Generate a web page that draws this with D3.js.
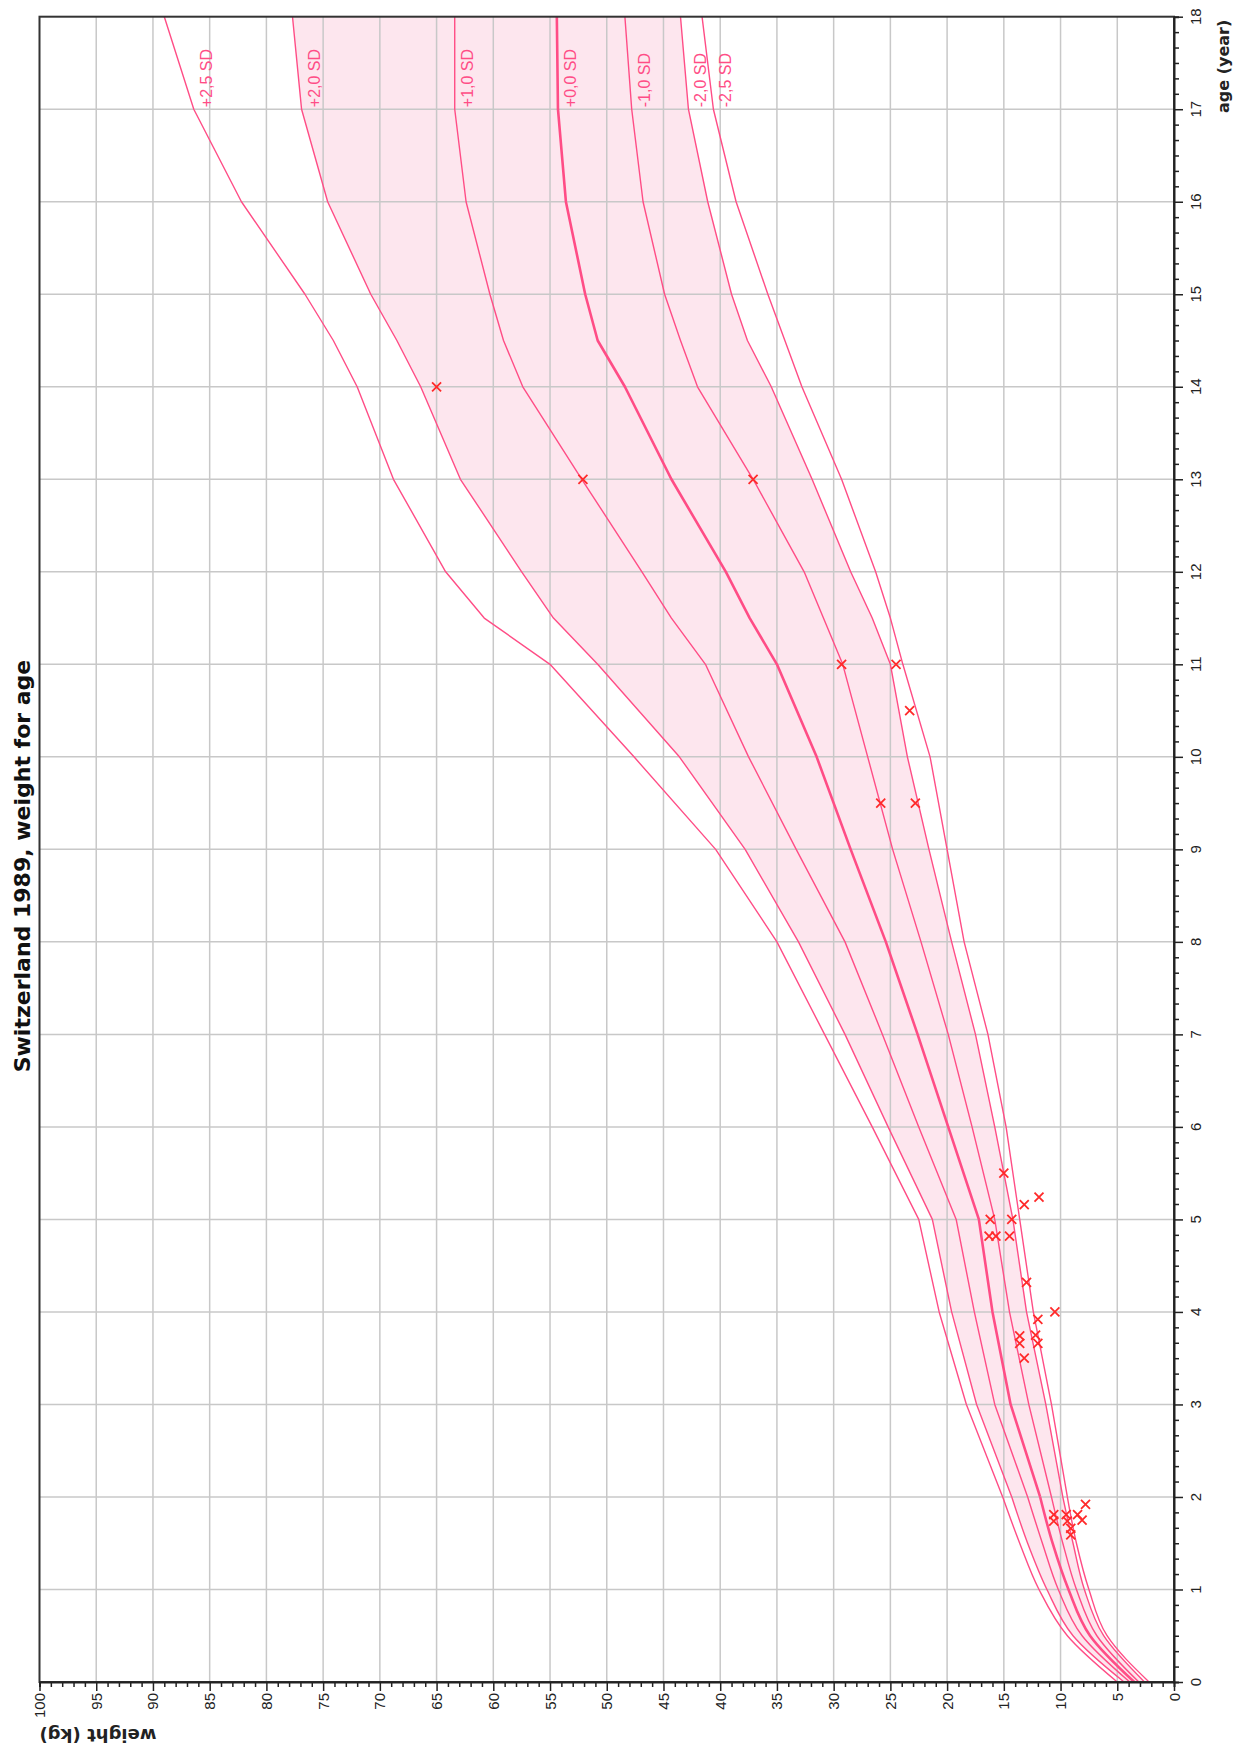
<!DOCTYPE html>
<html>
<head>
<meta charset="utf-8">
<script src="https://cdn.jsdelivr.net/npm/d3@7/dist/d3.min.js"></script>
<style>
  html, body { margin: 0; padding: 0; background: #fff; }
  svg { display: block; }
  text { font-family: "Liberation Sans", Arial, sans-serif; }
  .bold { font-family: "DejaVu Sans", sans-serif; font-weight: bold; }
</style>
</head>
<body>
<svg id="chart" width="1234" height="1749"></svg>
<script>
// Reference ages (years) at which the SD curves are tabulated
const ages = [0, 0.5, 1, 1.5, 2, 3, 4, 5, 6, 7, 8, 9, 10, 11, 11.5, 12, 13, 14, 14.5, 15, 16, 17, 18];

// Weight (kg) for each SD curve
const sdPlus25  = [5.0, 9.4, 11.9, 13.6, 15.1, 18.3, 20.7, 22.5, 26.6, 30.8, 35.0, 40.4, 47.6, 55.0, 60.8, 64.2, 68.8, 72.0, 74.1, 76.6, 82.2, 86.4, 89.0];
const sdPlus20  = [4.4, 8.9, 11.2, 12.9, 14.3, 17.4, 19.6, 21.3, 25.2, 29.0, 33.1, 37.8, 43.6, 50.8, 54.7, 57.5, 62.9, 66.4, 68.5, 70.8, 74.6, 76.9, 77.7];
const sdPlus10  = [3.9, 8.1, 10.2, 11.6, 12.9, 15.8, 17.6, 19.2, 22.5, 25.7, 29.0, 33.3, 37.5, 41.3, 44.3, 46.9, 52.2, 57.4, 59.1, 60.3, 62.4, 63.4, 63.4];
const sdZero    = [3.5, 7.4, 9.3, 10.7, 11.8, 14.4, 16.0, 17.2, 19.9, 22.6, 25.4, 28.5, 31.5, 35.0, 37.4, 39.5, 44.3, 48.4, 50.8, 51.9, 53.6, 54.3, 54.4];
const sdMinus10 = [3.1, 6.8, 8.6, 9.8, 10.8, 12.8, 14.5, 15.8, 17.8, 19.9, 22.3, 24.8, 27.0, 29.2, 30.9, 32.6, 37.1, 42.0, 43.5, 44.9, 46.8, 47.8, 48.4];
const sdMinus20 = [2.6, 6.2, 7.9, 8.9, 9.8, 11.3, 13.0, 14.2, 15.8, 17.5, 19.6, 21.6, 23.5, 25.0, 26.6, 28.5, 31.9, 35.5, 37.6, 39.0, 41.1, 42.8, 43.5];
const sdMinus25 = [2.2, 5.9, 7.5, 8.6, 9.4, 10.8, 12.4, 13.6, 14.8, 16.4, 18.5, 20.0, 21.5, 23.9, 25.0, 26.3, 29.3, 32.8, 34.3, 35.8, 38.6, 40.6, 41.6];

const sdLabels = ["+2,5 SD", "+2,0 SD", "+1,0 SD", "+0,0 SD", "-1,0 SD", "-2,0 SD", "-2,5 SD"];

// Measured patient values
const measAge    = [14, 13, 13, 11, 11, 10.5, 9.5, 9.5,
                    5.5, 5.16, 5.24, 5.0, 5.0, 4.82, 4.82, 4.82, 4.32, 4.0, 3.92, 3.74, 3.75, 3.66, 3.66, 3.5,
                    1.92, 1.81, 1.81, 1.81, 1.74, 1.74, 1.75, 1.66, 1.59];
const measWeight = [65, 52.1, 37.1, 29.3, 24.5, 23.3, 25.85, 22.8,
                    15.0, 13.2, 11.9, 16.2, 14.3, 16.3, 15.7, 14.5, 13.0, 10.5, 12.0, 13.6, 12.2, 13.6, 12.0, 13.2,
                    7.8, 10.6, 9.5, 8.5, 10.6, 9.4, 8.1, 9.1, 9.1];

const weightTicks = d3.range(0, 101, 5);
const ageTicks = d3.range(0, 19, 1);

const title = "Switzerland 1989, weight for age";
const weightTitle = "weight (kg)";
const ageTitle = "age (year)";

// ---- drawing ----
const svg = d3.select("#chart");
const PINK = "#ff4d86";

// weight runs right-to-left, age runs bottom-to-top
const x = d3.scaleLinear().domain([0, 100]).range([1174, 39.5]);
const y = d3.scaleLinear().domain([0, 18]).range([1682, 16.7]);

const series = [sdPlus25, sdPlus20, sdPlus10, sdZero, sdMinus10, sdMinus20, sdMinus25];

// infancy (0-2 y) is drawn as a smooth curve, later years as straight segments
const SPLIT = 2;
const infantIdx = ages.map((a, i) => i).filter(i => ages[i] <= SPLIT).reverse();
const laterIdx = ages.map((a, i) => i).filter(i => ages[i] >= SPLIT);

// band between +2 SD and -2 SD
const bandSmooth = d3.area().curve(d3.curveMonotoneY)
  .y(i => y(ages[i])).x0(i => x(sdPlus20[i])).x1(i => x(sdMinus20[i]));
const bandLinear = d3.area()
  .y(i => y(ages[i])).x0(i => x(sdPlus20[i])).x1(i => x(sdMinus20[i]));
svg.append("path").attr("d", bandSmooth(infantIdx)).attr("fill", "#fde6ee");
svg.append("path").attr("d", bandLinear(laterIdx)).attr("fill", "#fde6ee");

// grid
const grid = svg.append("g").attr("stroke", "#c8c8c8").attr("stroke-width", 1.5);
grid.selectAll("line.v").data(weightTicks.filter(v => v > 0 && v < 100)).join("line")
  .attr("x1", d => x(d)).attr("x2", d => x(d))
  .attr("y1", y(18)).attr("y2", y(0));
grid.selectAll("line.h").data(ageTicks.filter(v => v > 0 && v < 18)).join("line")
  .attr("x1", x(100)).attr("x2", x(0))
  .attr("y1", d => y(d)).attr("y2", d => y(d));

// SD curves
series.forEach((s, k) => {
  const smooth = d3.line().curve(d3.curveMonotoneY).x(i => x(s[i])).y(i => y(ages[i]));
  const straight = d3.line().x(i => x(s[i])).y(i => y(ages[i]));
  const g = svg.append("g")
    .attr("fill", "none")
    .attr("stroke", PINK)
    .attr("stroke-width", k === 3 ? 2.6 : 1.4)
    .attr("stroke-linejoin", "round");
  g.append("path").attr("d", smooth(infantIdx));
  g.append("path").attr("d", straight(laterIdx));
});

// SD labels, starting at age 17 and reading upwards
series.forEach((s, k) => {
  const i17 = ages.indexOf(17);
  const lx = x(s[i17]) + 18, ly = y(17) - 2;
  svg.append("text")
    .attr("transform", `translate(${lx},${ly}) rotate(-90)`)
    .attr("font-size", 16)
    .attr("fill", PINK)
    .text(sdLabels[k]);
});

// measurements
const cross = 4.5;
const marks = svg.append("g").attr("stroke", "#ff2a2a").attr("stroke-width", 1.8);
measAge.forEach((a, i) => {
  const cx = x(measWeight[i]), cy = y(a);
  marks.append("path").attr("d", `M${cx - cross},${cy - cross}L${cx + cross},${cy + cross}M${cx - cross},${cy + cross}L${cx + cross},${cy - cross}`);
});

// frame
svg.append("rect")
  .attr("x", x(100)).attr("y", y(18))
  .attr("width", x(0) - x(100)).attr("height", y(0) - y(18))
  .attr("fill", "none").attr("stroke", "#333").attr("stroke-width", 2);

// weight axis (bottom)
const wAxis = svg.append("g").attr("transform", `translate(0,${y(0)})`);
wAxis.call(d3.axisBottom(x).tickValues(d3.range(0, 101, 1)).tickSize(5).tickFormat(""));
wAxis.call(g => g.selectAll(".tick").filter(d => d % 5 === 0).select("line").attr("y2", 9));
wAxis.selectAll("path.domain").attr("stroke", "#222").attr("stroke-width", 2);
wAxis.selectAll(".tick line").attr("stroke", "#222").attr("stroke-width", 1.5);
weightTicks.forEach(v => {
  svg.append("text")
    .attr("transform", `translate(${x(v)},${y(0) + 11}) rotate(-90)`)
    .attr("text-anchor", "end").attr("dominant-baseline", "central")
    .attr("font-size", 15).attr("fill", "#222")
    .text(v);
});
svg.append("text")
  .attr("class", "bold")
  .attr("transform", `translate(${x(100)},${y(0) + 53}) rotate(180)`)
  .attr("text-anchor", "end").attr("dominant-baseline", "central")
  .attr("font-size", 18).attr("fill", "#222")
  .text(weightTitle);

// age axis (right)
const aAxis = svg.append("g").attr("transform", `translate(${x(0)},0)`);
aAxis.call(d3.axisRight(y).tickValues(d3.range(0, 18 * 6 + 1).map(i => i / 6)).tickSize(5).tickFormat(""));
aAxis.call(g => g.selectAll(".tick").filter((d, i) => i % 6 === 0).select("line").attr("x2", 9));
aAxis.selectAll("path.domain").attr("stroke", "#222").attr("stroke-width", 2);
aAxis.selectAll(".tick line").attr("stroke", "#222").attr("stroke-width", 1.5);
ageTicks.forEach(v => {
  svg.append("text")
    .attr("transform", `translate(${x(0) + 27},${y(v)}) rotate(-90)`)
    .attr("text-anchor", "middle")
    .attr("font-size", 15).attr("fill", "#222")
    .text(v);
});
svg.append("text")
  .attr("class", "bold")
  .attr("transform", `translate(${x(0) + 55},${y(18) + 3}) rotate(-90)`)
  .attr("text-anchor", "end")
  .attr("font-size", 16).attr("fill", "#222")
  .text(ageTitle);

// title
svg.append("text")
  .attr("class", "bold")
  .attr("transform", `translate(30,866) rotate(-90)`)
  .attr("text-anchor", "middle")
  .attr("font-size", 22).attr("fill", "#111")
  .text(title);
</script>
</body>
</html>
